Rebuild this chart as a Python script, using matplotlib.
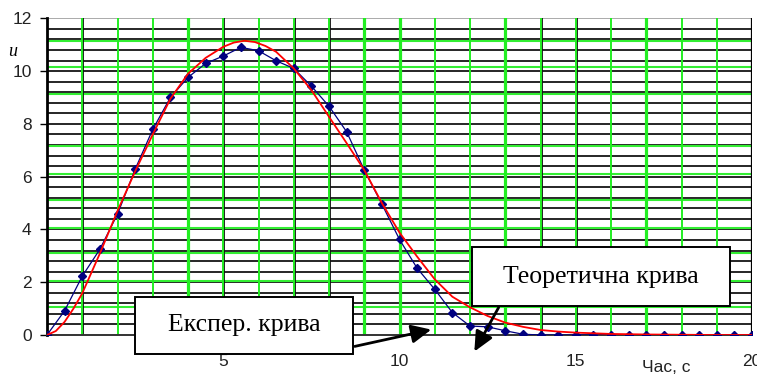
import matplotlib.pyplot as plt
from matplotlib.patches import Rectangle, FancyArrowPatch
import numpy as np

# experimental points, every 0.5 s
t_exp = np.arange(0, 20.5, 0.5)
u_exp = [0, 0.92, 2.23, 3.25, 4.58, 6.28, 7.79, 9.0, 9.76, 10.29, 10.57,
         10.9, 10.77, 10.39, 10.1, 9.43, 8.67, 7.7, 6.25, 4.96, 3.62, 2.53,
         1.73, 0.85, 0.34, 0.31, 0.16, 0.03, 0, 0, 0, 0, 0, 0, 0, 0, 0, 0,
         0, 0, 0]

# theoretical curve
t_th = [0, 0.25, 0.5, 0.75, 1, 1.5, 2, 2.5, 3, 3.5, 4, 4.5, 5, 5.3, 5.6,
        5.9, 6.2, 6.5, 7, 7.5, 8, 8.5, 9, 9.5, 10, 10.5, 11, 11.5, 12, 12.5,
        13, 13.5, 14, 14.5, 15, 16, 17, 18, 19, 20]
u_th = [0, 0.15, 0.5, 1.0, 1.58, 3.09, 4.7, 6.2, 7.6, 8.95, 9.9, 10.5,
        10.92, 11.08, 11.15, 11.1, 10.95, 10.73, 10.1, 9.28, 8.27, 7.27,
        6.25, 5.0, 3.88, 2.97, 2.11, 1.45, 1.05, 0.72, 0.47, 0.31, 0.19,
        0.13, 0.09, 0.04, 0.02, 0.01, 0.0, 0.0]

black_h = np.arange(0.4, 12.0, 0.4)
green_h = [1.07, 2.06, 3.09, 4.06, 5.11, 6.1, 7.17, 9.12, 10.16, 11.15]
green_v = list(range(1, 20))
black_v = [1, 4, 5, 7, 8, 9, 10, 14, 15, 17]
thick_green_v = [4, 9, 10, 13, 17]

W, H = 757, 379


def px(x, y):
    # picture pixels (from top-left) to figure fraction
    return x / W, 1 - y / H


def main():
    fig = plt.figure(figsize=(7.57, 3.79), dpi=100)
    ax = fig.add_axes([0.0621, 0.1161, 0.9313, 0.8356])
    ax.set_xlim(0, 20)
    ax.set_ylim(0, 12)

    # the messy grid
    for y in black_h:
        ax.axhline(y, color='#262626', lw=1.4, zorder=1)
    ax.axhline(12, color='#aaaaaa', lw=1.4, zorder=1)
    for y in green_h:
        ax.axhline(y, color='#33ee33', lw=1.5, zorder=1.5)
    for x in black_v:
        ax.axvline(x + 0.03, color='#111111', lw=1.3, zorder=1.6)
    for x in green_v:
        lw = 2.3 if x in thick_green_v else 1.4
        ax.axvline(x, color='#22ee22', lw=lw, zorder=1.7)
    ax.axvline(20, color='black', lw=1.6, zorder=1.7)

    ax.plot(t_exp, u_exp, color='#000080', lw=0.9, marker='D', ms=4.5,
            zorder=3)
    ax.plot(t_th, u_th, color='#ff0000', lw=1.3, zorder=4)

    for s in ['top', 'right']:
        ax.spines[s].set_visible(False)
    ax.spines['left'].set_linewidth(2)
    ax.spines['bottom'].set_linewidth(1.4)
    ax.spines['bottom'].set_color('#333333')

    ax.set_yticks(range(0, 13, 2))
    ax.set_xticks([5, 10, 15, 20])
    ax.tick_params(axis='y', length=5, width=1, labelsize=12.5, pad=6,
                   labelcolor='#222222')
    ax.tick_params(axis='x', length=0, pad=14, labelsize=12.5,
                   labelcolor='#222222')
    for lbl in ax.get_xticklabels() + ax.get_yticklabels():
        lbl.set_family('Liberation Sans')

    fig.text(*px(8, 56), 'u', family='Liberation Serif', style='italic',
             fontsize=13)
    fig.text(*px(666, 367), 'Час, с', family='Liberation Sans',
             fontsize=12.5, ha='center', va='center', color='#222222')

    # callout boxes drawn in picture pixels
    boxes = [
        ((135, 297, 353, 354), 'Експер. крива'),
        ((472, 247, 730, 306), 'Теоретична крива'),
    ]
    for (x0, y0, x1, y1), txt in boxes:
        fx0, fy1 = px(x0, y1)
        fx1, fy0 = px(x1, y0)
        fig.patches.append(Rectangle((fx0, fy1), fx1 - fx0, fy0 - fy1,
                                     transform=fig.transFigure,
                                     fc='white', ec='black', lw=1.4,
                                     zorder=6))
        fig.text((fx0 + fx1) / 2, (fy0 + fy1) / 2, txt,
                 family='Liberation Serif', fontsize=18.5,
                 ha='center', va='center', zorder=7)

    arrows = [((352, 347), (434, 329)), ((500, 305), (473, 354))]
    for a, b in arrows:
        fig.patches.append(FancyArrowPatch(
            px(*a), px(*b), transform=fig.transFigure,
            arrowstyle='-|>,head_length=0.6,head_width=0.28',
            mutation_scale=20, lw=2, color='black', zorder=8))

    fig.savefig('out.png')


if __name__ == '__main__':
    main()
